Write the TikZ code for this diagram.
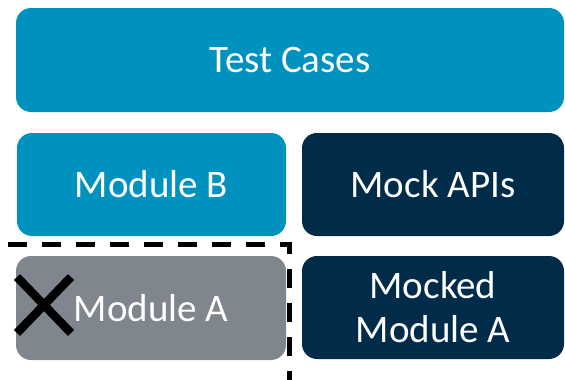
\documentclass[tikz,border=0pt]{standalone}
\usepackage{fontspec}
\setmainfont{Carlito}
\definecolor{TestBlue}{RGB}{0, 146, 190}
\definecolor{MockNavy}{RGB}{0, 44, 74}
\definecolor{StubGray}{RGB}{127, 134, 141}
\usetikzlibrary{shapes.misc}

\begin{document}
\begin{tikzpicture}[x=1pt, y=-1pt,
    every node/.style={font=\fontsize{39}{44}\selectfont, text=white, inner sep=0pt, outer sep=0pt, align=center},
    block/.style={rounded corners=15pt, minimum width=#1, minimum height=103pt},
    block/.default=269pt]
        % Frame
        \useasboundingbox (0,0) rectangle (565,380);
        \clip (0,0) rectangle (565,380);

        % Top row
        \node[block=548pt, fill=TestBlue, minimum height=104pt] (cases) at (290,60) {Test Cases};

        % Middle row
        \node[block, fill=TestBlue] (modb) at (151.5,184.5) {Module B};
        \node[block=262pt, fill=MockNavy] (mockapi) at (433,184.5) {Mock APIs};

        % Bottom row
        \node[block=270pt, fill=StubGray, minimum height=104pt] (moda) at (151,308) {Module A};
        \node[block=262pt, fill=MockNavy] (mocked) at (433,307.5) {Mocked\\Module A};

        % Removed module
        \node[cross out, draw=black, line width=8.5pt, minimum width=54pt, minimum height=56pt] (gone) at (44,305) {};
        \draw[line width=4.5pt, dash pattern=on 19pt off 15pt] (8,244.5) -- (289.5,244.5) -- (289.5,395);
    \end{tikzpicture}
\end{document}
